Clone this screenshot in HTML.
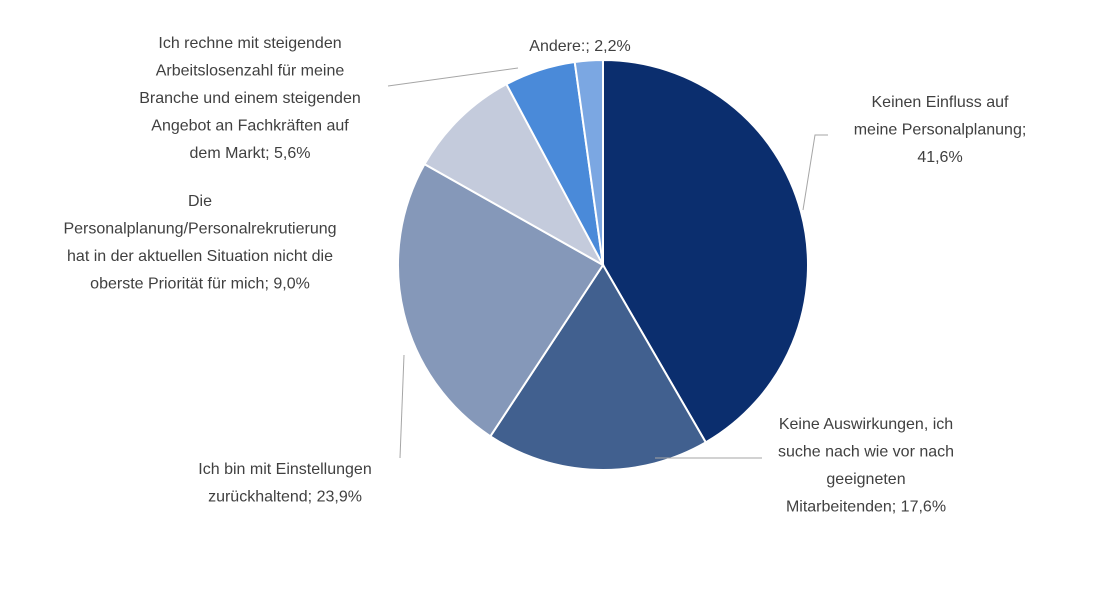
<!DOCTYPE html>
<html><head><meta charset="utf-8">
<style>
body{margin:0;background:#fff;}
svg text{font-family:"Liberation Sans",sans-serif;font-size:16px;fill:#404040;}
</style></head>
<body>
<svg id="chart" width="1098" height="586" viewBox="0 0 1098 586"></svg>
<script>
const categories=["Keinen Einfluss auf meine Personalplanung","Keine Auswirkungen","Ich bin mit Einstellungen zurückhaltend","Personalplanung nicht oberste Priorität","Steigende Arbeitslosenzahl","Andere"];
const values=[41.6,17.6,23.9,9.0,5.6,2.2];
const colors=["#0b2e6e","#41608f","#8598b9","#c4cbdc","#4a8ad9","#7ba7e2"];
const labelLines=[
 ["Keinen Einfluss auf","meine Personalplanung;","41,6%"],
 ["Keine Auswirkungen, ich","suche nach wie vor nach","geeigneten","Mitarbeitenden; 17,6%"],
 ["Ich bin mit Einstellungen","zurückhaltend; 23,9%"],
 ["Die","Personalplanung/Personalrekrutierung","hat in der aktuellen Situation nicht die","oberste Priorität für mich; 9,0%"],
 ["Ich rechne mit steigenden","Arbeitslosenzahl für meine","Branche und einem steigenden","Angebot an Fachkräften auf","dem Markt; 5,6%"],
 ["Andere:; 2,2%"]
];
const labelPos=[[940,107],[866,429],[285,474],[200,206],[250,48],[580,51]];
const leaders=[[[803,210],[815,135],[828,135]],[[655,458],[762,458]],[[400,458],[404,355]],null,[[388,86],[518,68]],null];
const svg=document.getElementById('chart');
const NS="http://www.w3.org/2000/svg";
const cx=603,cy=265,r=205;
const total=values.reduce((a,b)=>a+b,0);
let ang=-Math.PI/2;
values.forEach((v,i)=>{
 const a0=ang,a1=ang+v/total*2*Math.PI;ang=a1;
 const p=document.createElementNS(NS,'path');
 const x0=cx+r*Math.cos(a0),y0=cy+r*Math.sin(a0),x1=cx+r*Math.cos(a1),y1=cy+r*Math.sin(a1);
 p.setAttribute('d',`M${cx},${cy}L${x0},${y0}A${r},${r} 0 ${a1-a0>Math.PI?1:0} 1 ${x1},${y1}Z`);
 p.setAttribute('fill',colors[i]);p.setAttribute('stroke','#fff');p.setAttribute('stroke-width','2');
 
 
 svg.appendChild(p);
});
leaders.forEach((l,i)=>{
 if(!l)return;
 const pl=document.createElementNS(NS,'polyline');
 pl.setAttribute('points',l.map(q=>q.join(',')).join(' '));
 pl.setAttribute('fill','none');pl.setAttribute('stroke','#a6a6a6');pl.setAttribute('stroke-width','1');
 
 
 svg.appendChild(pl);
});
labelLines.forEach((lines,i)=>{
 const t=document.createElementNS(NS,'text');
 t.setAttribute('text-anchor','middle');
 
 
 lines.forEach((s,j)=>{
  const ts=document.createElementNS(NS,'tspan');
  ts.setAttribute('x',labelPos[i][0]);ts.setAttribute('y',labelPos[i][1]+j*27.5);
  ts.textContent=s;t.appendChild(ts);
 });
 svg.appendChild(t);
});
</script>
</body></html>
